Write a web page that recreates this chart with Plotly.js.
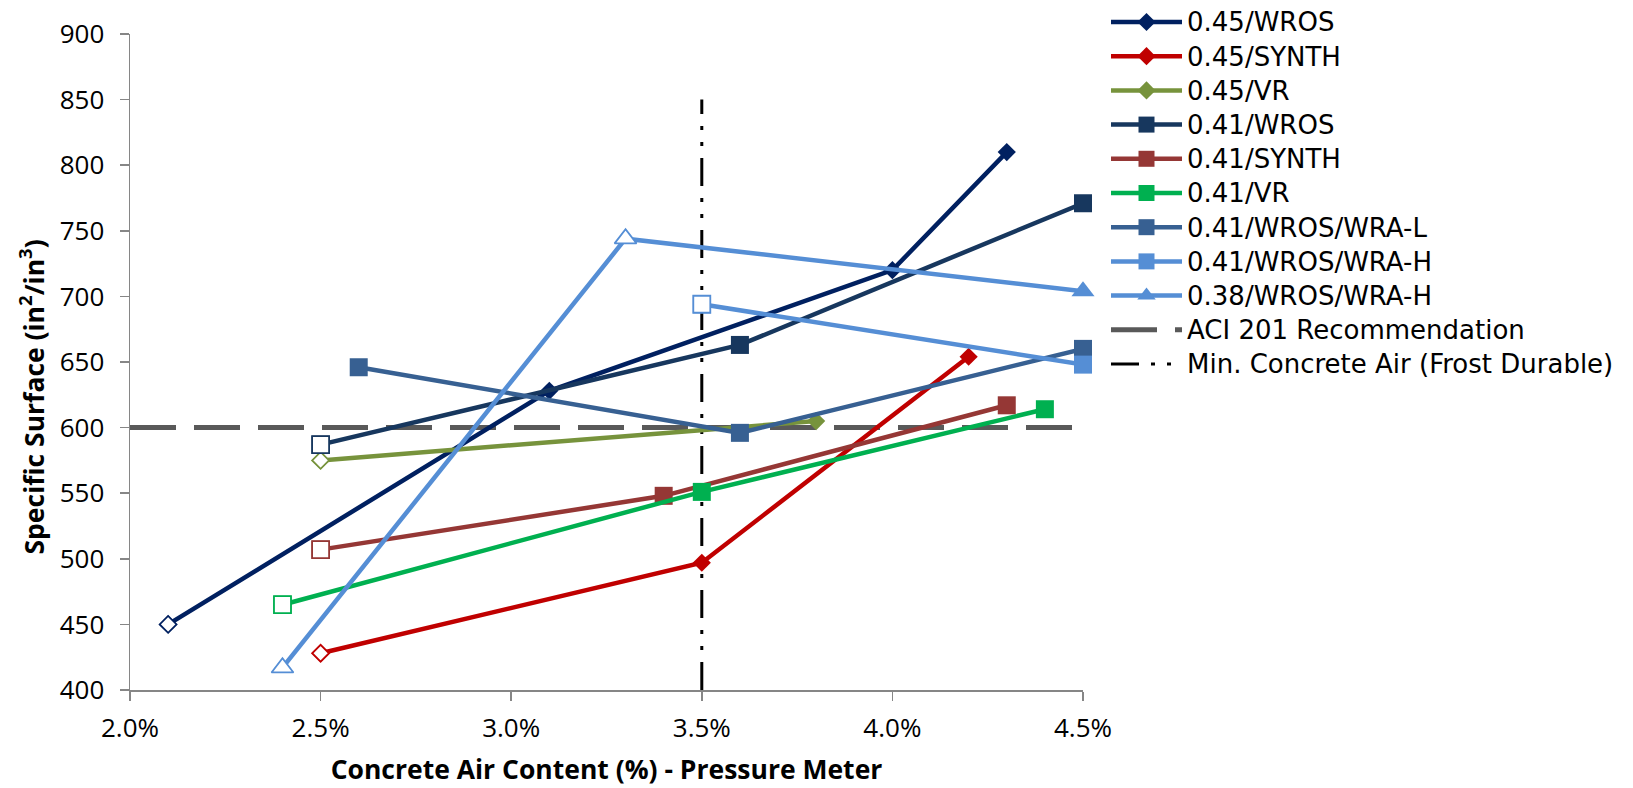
<!DOCTYPE html>
<html><head><meta charset="utf-8">
<script src="https://cdn.plot.ly/plotly-3.0.1.min.js"></script>
<style>html,body{margin:0;padding:0;background:#fff}#chart{width:1633px;height:788px}</style>
</head><body><div id="chart"></div>
<script>
// ---- data ----
const seriesNames = ['0.45/WROS','0.45/SYNTH','0.45/VR','0.41/WROS','0.41/SYNTH','0.41/VR','0.41/WROS/WRA-L','0.41/WROS/WRA-H','0.38/WROS/WRA-H'];

const air_045_WROS  = [2.1, 3.1, 4.0, 4.3];
const ss_045_WROS   = [450, 628, 720, 810];
const open_045_WROS = [true, false, false, false];

const air_045_SYNTH  = [2.5, 3.5, 4.2];
const ss_045_SYNTH   = [428, 497, 654];
const open_045_SYNTH = [true, false, false];

const air_045_VR  = [2.5, 3.8];
const ss_045_VR   = [575, 605];
const open_045_VR = [true, false];

const air_041_WROS  = [2.5, 3.6, 4.5];
const ss_041_WROS   = [587, 663, 771];
const open_041_WROS = [true, false, false];

const air_041_SYNTH  = [2.5, 3.4, 4.3];
const ss_041_SYNTH   = [507, 548, 617];
const open_041_SYNTH = [true, false, false];

const air_041_VR  = [2.4, 3.5, 4.4];
const ss_041_VR   = [465, 551, 614];
const open_041_VR = [true, false, false];

const air_041_WRAL  = [2.6, 3.6, 4.5];
const ss_041_WRAL   = [646, 596, 660];
const open_041_WRAL = [false, false, false];

const air_041_WRAH  = [3.5, 4.5];
const ss_041_WRAH   = [694, 648];
const open_041_WRAH = [true, false];

const air_038_WRAH  = [2.4, 3.3, 4.5];
const ss_038_WRAH   = [417, 744, 704];
const open_038_WRAH = [true, true, false];

const aciName = 'ACI 201 Recommendation';
const aciAir = [2.0, 4.5];
const aciSS  = [600, 600];

const minName = 'Min. Concrete Air (Frost Durable)';
const minAir = [3.5, 3.5];
const minSS  = [400, 850];

const xTickVals  = [2.0, 2.5, 3.0, 3.5, 4.0, 4.5];
const xTickText  = ['2.0%', '2.5%', '3.0%', '3.5%', '4.0%', '4.5%'];
const yTickVals  = [400, 450, 500, 550, 600, 650, 700, 750, 800, 850, 900];

const xTitle = 'Concrete Air Content (%) - Pressure Meter';
const yTitle = 'Specific Surface (in<sup>2</sup>/in<sup>3</sup>)';

// ---- styles ----
const FONT = 'Open Sans, sans-serif';
const LEG_FONT = 'DejaVu Sans, sans-serif';
const LEG_PX = 26;
const styles = [
  {color:'#002060', symbol:'diamond', size:14},
  {color:'#C00000', symbol:'diamond', size:14},
  {color:'#77933C', symbol:'diamond', size:14},
  {color:'#17375E', symbol:'square', size:18},
  {color:'#953735', symbol:'square', size:18},
  {color:'#00B050', symbol:'square', size:18},
  {color:'#376092', symbol:'square', size:18},
  {color:'#558ED5', symbol:'square', size:18},
  {color:'#558ED5', symbol:'triangle-up', size:20}
];
const seriesData = [
  [air_045_WROS, ss_045_WROS, open_045_WROS],
  [air_045_SYNTH, ss_045_SYNTH, open_045_SYNTH],
  [air_045_VR, ss_045_VR, open_045_VR],
  [air_041_WROS, ss_041_WROS, open_041_WROS],
  [air_041_SYNTH, ss_041_SYNTH, open_041_SYNTH],
  [air_041_VR, ss_041_VR, open_041_VR],
  [air_041_WRAL, ss_041_WRAL, open_041_WRAL],
  [air_041_WRAH, ss_041_WRAH, open_041_WRAH],
  [air_038_WRAH, ss_038_WRAH, open_038_WRAH]
];
const legName = n => '<span style="font-size:' + LEG_PX + 'px">' + n + '</span>';

const traces = [];
traces.push({
  x: aciAir, y: aciSS, name: legName(aciName), mode: 'lines', legendrank: 10,
  line: {color:'#595959', width:5, dash:'46px,18px'}, cliponaxis:false, hoverinfo:'skip'
});
traces.push({
  x: minAir, y: minSS, name: legName(minName), mode: 'lines', legendrank: 11,
  line: {color:'#000000', width:3, dash:'28px,12px,4px,12px,4px,12px'}, cliponaxis:false, hoverinfo:'skip'
});
seriesData.forEach((d, i) => {
  const s = styles[i];
  traces.push({
    x: d[0], y: d[1], name: legName(seriesNames[i]), mode: 'lines+markers', legendrank: i + 1,
    line: {color: s.color, width: 4.5},
    marker: {color: s.color, symbol: s.symbol, size: s.size, line: {width: 0}},
    cliponaxis: false
  });
});
seriesData.forEach((d, i) => {
  const s = styles[i];
  const ox = [], oy = [];
  d[2].forEach((o, k) => { if (o) { ox.push(d[0][k]); oy.push(d[1][k]); } });
  if (!ox.length) return;
  traces.push({
    x: ox, y: oy, name: seriesNames[i] + ' (open)', mode: 'markers', showlegend: false,
    marker: {color: '#ffffff', symbol: s.symbol, size: s.size - 1, line: {color: s.color, width: 1.8}},
    cliponaxis: false
  });
});

const layout = {
  width: 1633, height: 788,
  margin: {l:130, r:550, t:34, b:98, autoexpand:false},
  paper_bgcolor:'#ffffff', plot_bgcolor:'#ffffff',
  font: {family: FONT, color:'#000000'},
  showlegend: true,
  legend: {
    x: (1106-130)/953, xanchor:'left', y: 1.052, yanchor:'top', itemwidth: 71,
    font: {family: LEG_FONT, size: 24, color:'#000000'},
    bgcolor:'rgba(0,0,0,0)', borderwidth:0, traceorder:'normal'
  },
  xaxis: {
    range:[2.0, 4.5], tickmode:'array', tickvals: xTickVals, ticktext: xTickText,
    showgrid:false, zeroline:false, showline:true, linecolor:'#868686', linewidth:1.5,
    ticks:'outside', ticklen:9, tickwidth:1.5, tickcolor:'#868686', ticklabelstandoff:5,
    tickfont:{family:FONT, size:26, color:'#000'},
    title:{text: xTitle, font:{family:FONT, size:26.5, weight:'bold', color:'#000'}, standoff:16}
  },
  yaxis: {
    range:[400, 900], tickmode:'array', tickvals: yTickVals,
    showgrid:false, zeroline:false, showline:true, linecolor:'#868686', linewidth:1.5,
    ticks:'outside', ticklen:9, tickwidth:1.5, tickcolor:'#868686', ticklabelstandoff:10,
    tickfont:{family:FONT, size:26, color:'#000'}
  },
  annotations: [{
    text: yTitle, textangle:-90, showarrow:false,
    xref:'paper', yref:'paper', x:(32-130)/953, y:(690.5-398)/656, xanchor:'center', yanchor:'middle',
    font:{family:FONT, size:26.5, weight:'bold', color:'#000'}
  }]
};

Plotly.newPlot('chart', traces, layout, {displayModeBar:false, staticPlot:true});
</script>
</body></html>
